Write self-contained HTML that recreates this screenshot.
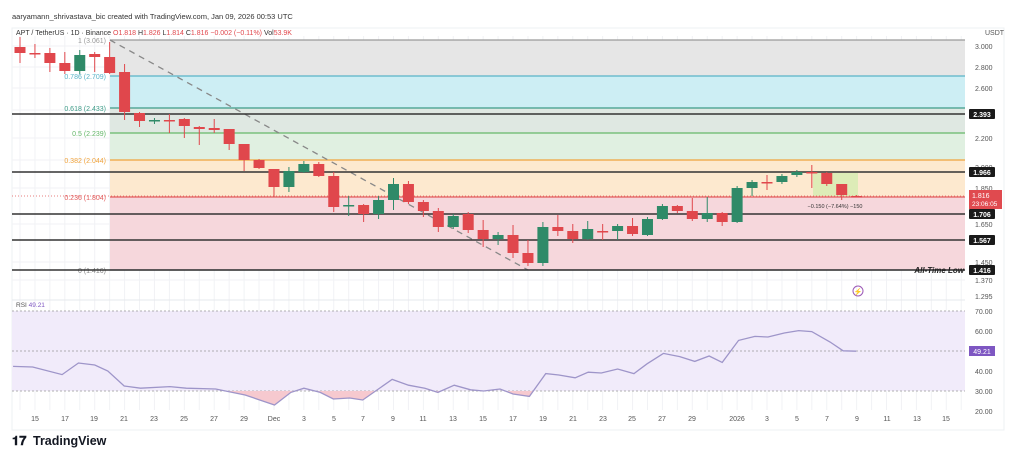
<!DOCTYPE html>
<html><head><meta charset="utf-8"><style>
html,body{margin:0;padding:0;background:#fff;width:1024px;height:464px;overflow:hidden;font-family:"Liberation Sans",sans-serif}
svg{position:absolute;left:0;top:0}
</style></head><body>
<svg id="s" width="1024" height="464" xmlns="http://www.w3.org/2000/svg" font-family="Liberation Sans, sans-serif"></svg>
<script>
const s=document.getElementById('s');let h='';
const R=965; // chart right edge
h+=`<rect x="12" y="28" width="992" height="402" fill="none" stroke="#eef0f3"/>`;
// vertical grid
for(let k=0;k<64;k++){const x=20+14.94*k;if(x>R)break;h+=`<line x1="${x}" y1="36" x2="${x}" y2="410" stroke="#f1f2f5"/>`;}
[46,67,88,110,138,160,188,224,262,280].forEach(y=>h+=`<line x1="12" y1="${y}" x2="${R}" y2="${y}" stroke="#f1f2f5"/>`);
// fib zones
const fz=[[40,76,'#e6e6e6'],[76,108,'#cdeef4'],[108,133,'#dfe8e2'],[133,160,'#e0f0e1'],[160,197,'#fde9cf'],[197,270,'#f6d7dc']];
fz.forEach(z=>h+=`<rect x="110" y="${z[0]}" width="${R-110}" height="${z[1]-z[0]}" fill="${z[2]}"/>`);
const fl=[[40,'#9a9a9a','1 (3.061)'],[76,'#5ab4c8','0.786 (2.709)'],[108,'#3e9c88','0.618 (2.433)'],[133,'#66b86a','0.5 (2.239)'],[160,'#f0a33c','0.382 (2.044)'],[197,'#e25c5c','0.236 (1.804)'],[270,'#888','0 (1.416)']];
fl.forEach(f=>{h+=`<line x1="110" y1="${f[0]}" x2="${R}" y2="${f[0]}" stroke="${f[1]}" stroke-width="1.2"/>`;h+=`<text x="106" y="${f[0]+3}" font-size="7" fill="${f[1]}" text-anchor="end">${f[2]}</text>`;});
// dashed diagonal
h+=`<line x1="110" y1="40" x2="528" y2="270" stroke="#888" stroke-width="1.3" stroke-dasharray="6,5"/>`;
// black levels
[114,172,214,240,270].forEach(y=>h+=`<line x1="12" y1="${y}" x2="${R}" y2="${y}" stroke="#333" stroke-width="1.4"/>`);
// green box
h+=`<rect x="813" y="173" width="45" height="23" fill="#d4ecb0" opacity="0.8"/>`;
// current price line
h+=`<line x1="12" y1="196" x2="${R}" y2="196" stroke="#e05656" stroke-width="0.8" stroke-dasharray="1,2"/>`;
// candles [open,close,high,low]
const C=[[47,53,37,63],[53,53,44,58],[53,63,48,72],[63,71,52,74],[71,55,50,74],[54,57,52,72],[57,73,42,74],[72,112,64,120],[113,121,112,127],[121,120,118,124],[120,121,114,133],[119,126,118,138],[127,129,126,145],[128,130,119,133],[129,144,129,150],[144,160,144,171],[160,168,159,169],[169,187,169,197],[187,171,167,192],[172,164,161,173],[164,176,162,177],[176,207,172,212],[206,205,196,216],[205,214,204,222],[214,200,196,219],[200,184,178,210],[184,202,181,204],[202,211,200,217],[211,227,208,232],[227,216,214,229],[214,230,212,233],[230,239,220,247],[239,235,232,245],[235,253,225,258],[253,263,240,266],[263,227,222,266],[227,231,215,236],[231,239,224,243],[239,229,221,240],[231,231,224,240],[231,226,224,240],[226,234,218,236],[235,219,217,236],[219,206,204,220],[206,211,205,213],[211,219,198,221],[219,213,197,222],[213,222,212,226],[222,188,186,223],[188,182,180,196],[182,182,175,190],[182,176,174,184],[175,172,170,177],[172,172,165,188],[173,184,172,186],[184,195,184,200],[196,196,195,197]];
C.forEach((c,k)=>{const x=20+14.94*k;const up=c[1]<c[0];const col=up?'#2f8a68':'#e0474c';const t=Math.min(c[0],c[1]),b=Math.max(Math.max(c[0],c[1]),t+1.5);
h+=`<line x1="${x}" y1="${c[2]}" x2="${x}" y2="${c[3]}" stroke="${col}"/>`;h+=`<rect x="${x-5.5}" y="${t}" width="11" height="${b-t}" fill="${col}"/>`;});
h+=`<text x="835" y="208" font-size="5.5" fill="#333" text-anchor="middle">−0.150 (−7.64%) −150</text>`;
// right axis labels
[[3.000,46],[2.800,67],[2.600,88],[2.200,138],[2.000,167],[1.850,188],[1.650,224],[1.450,262],[1.370,280],[1.295,296]].forEach(p=>h+=`<text x="975" y="${p[1]+3}" font-size="7" fill="#555">${p[0].toFixed(3)}</text>`);
h+=`<text x="985" y="35" font-size="7" fill="#555">USDT</text>`;
[[114,'2.393'],[172,'1.966'],[214,'1.706'],[240,'1.567'],[270,'1.416']].forEach(p=>{h+=`<rect x="969" y="${p[0]-5}" width="26" height="10" rx="1" fill="#1a1a1a"/><text x="982" y="${p[0]+3}" font-size="7" fill="#fff" text-anchor="middle" font-weight="bold">${p[1]}</text>`;});
h+=`<rect x="969" y="190" width="33" height="19" fill="#e04a4f"/><text x="972" y="198" font-size="7" fill="#fff">1.816</text><text x="972" y="206" font-size="6.5" fill="#fff">23:06:05</text>`;
h+=`<text x="964" y="273" font-size="8" font-style="italic" font-weight="bold" fill="#222" text-anchor="end">All-Time Low</text>`;
h+=`<circle cx="858" cy="291" r="5" fill="none" stroke="#9b59b6"/><text x="858" y="294" font-size="7" fill="#9b59b6" text-anchor="middle">⚡</text>`;
// header
h+=`<text x="12" y="19" font-size="7.5" fill="#333">aaryamann_shrivastava_bic created with TradingView.com, Jan 09, 2026 00:53 UTC</text>`;
h+=`<text x="16" y="35" font-size="7" fill="#333">APT / TetherUS · 1D · Binance <tspan fill="#e0474c">O</tspan><tspan fill="#e0474c">1.818 </tspan>H<tspan fill="#e0474c">1.826 </tspan>L<tspan fill="#e0474c">1.814 </tspan>C<tspan fill="#e0474c">1.816 −0.002 (−0.11%) </tspan>Vol<tspan fill="#e0474c">53.9K</tspan></text>`;
// RSI panel
h+=`<line x1="12" y1="300" x2="${R}" y2="300" stroke="#e6e8ec"/>`;
h+=`<rect x="12" y="311" width="${R-12}" height="80" fill="#f1ebfa"/>`;
[311,351,391].forEach(y=>h+=`<line x1="12" y1="${y}" x2="${R}" y2="${y}" stroke="#999" stroke-dasharray="2,2" stroke-width="0.8"/>`);
const Z=[[20,42.3],[50,42],[95,38.2],[120,44],[145,43],[165,40],[190,32.5],[215,31.4],[260,32.2],[285,31.4],[330,31],[375,28],[420,23],[445,29.3],[465,31.4],[490,29.3],[510,26],[535,26.5],[555,25.5],[600,35.8],[625,32.9],[650,31.4],[670,29.3],[695,32.9],[720,30.6],[740,30],[765,31],[785,28.5],[810,27.3],[835,38.7],[855,38],[880,36.6],[900,39.4],[920,39],[945,41],[970,38.7],[990,43.6],[1015,48.8],[1040,47.2],[1063,44.8],[1085,47.5],[1105,44.3],[1130,55.3],[1155,57.3],[1175,57],[1200,59],[1222,60.2],[1242,59.7],[1270,54.5],[1290,50.1],[1310,49.9]];
const P=Z.map(p=>[p[0]/1.53,451-2*p[1]]);
// oversold fill
let fp='';for(let i=0;i<P.length;i++){}
h+=`<clipPath id="os"><rect x="12" y="391" width="${R}" height="30"/></clipPath>`;
h+=`<polygon clip-path="url(#os)" points="${P[0][0]},391 ${P.map(p=>p.join(',')).join(' ')} ${P[P.length-1][0]},391" fill="#f6c9cf"/>`;
h+=`<polyline points="${P.map(p=>p.join(',')).join(' ')}" fill="none" stroke="#9e95c9" stroke-width="1.3"/>`;
h+=`<text x="16" y="307" font-size="6.5" fill="#555">RSI <tspan fill="#7e57c2">49.21</tspan></text>`;
[[70,311],[60,331],[40,371],[30,391],[20,411]].forEach(p=>h+=`<text x="975" y="${p[1]+3}" font-size="7" fill="#555">${p[0].toFixed(2)}</text>`);
h+=`<rect x="969" y="346" width="26" height="10" fill="#7e57c2"/><text x="982" y="354" font-size="7" fill="#fff" text-anchor="middle">49.21</text>`;
// date axis
const D=[[35,'15'],[65,'17'],[94,'19'],[124,'21'],[154,'23'],[184,'25'],[214,'27'],[244,'29'],[274,'Dec'],[304,'3'],[334,'5'],[363,'7'],[393,'9'],[423,'11'],[453,'13'],[483,'15'],[513,'17'],[543,'19'],[573,'21'],[603,'23'],[632,'25'],[662,'27'],[692,'29'],[737,'2026'],[767,'3'],[797,'5'],[827,'7'],[857,'9'],[887,'11'],[917,'13'],[946,'15']];
D.forEach(d=>h+=`<text x="${d[0]}" y="421" font-size="7" fill="#555" text-anchor="middle">${d[1]}</text>`);
// logo
h+=`<text x="12" y="445" font-size="13" font-weight="bold" fill="#131722">𝟏𝟕</text><text x="33" y="445" font-size="12.5" font-weight="bold" fill="#131722">TradingView</text>`;
s.innerHTML=h;
</script>
</body></html>
